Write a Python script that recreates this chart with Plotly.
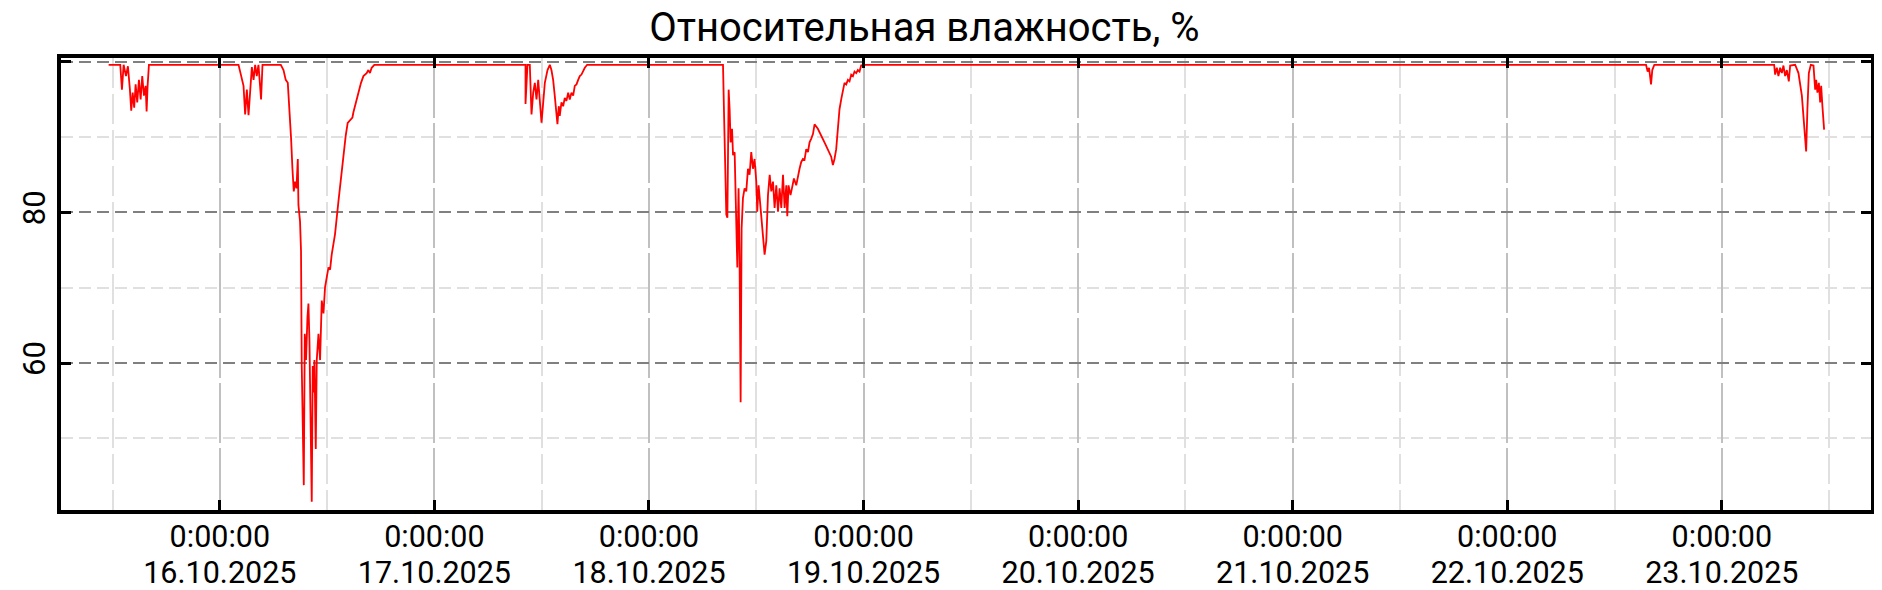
import pandas as pd
import plotly.graph_objects as go

# relative humidity readings, hours counted from 15.10.2025 0:00
hours = [
    11.56, 12.86, 13.05, 13.24, 13.50, 13.72, 13.94, 14.09, 14.25, 14.42,
    14.58, 14.76, 14.95, 15.14, 15.32, 15.51, 15.70, 15.81, 15.92, 16.07,
    26.09, 26.38, 26.65, 26.83, 27.02, 27.21, 27.39, 27.58, 27.77, 27.95,
    28.13, 28.32, 28.50, 28.61, 28.77, 30.82, 31.12, 31.37, 31.60, 31.74,
    31.97, 32.12, 32.27, 32.41, 32.57, 32.72, 32.79, 32.97, 33.08, 33.16,
    33.27, 33.39, 33.50, 33.64, 33.80, 33.91, 34.02, 34.13, 34.28, 34.39,
    34.50, 34.58, 34.73, 34.84, 35.03, 35.21, 35.40, 35.59, 35.77, 36.15,
    36.33, 36.51, 36.88, 37.26, 37.55, 37.82, 38.08, 38.30, 38.56, 38.83,
    38.94, 39.20, 39.50, 39.79, 40.06, 40.24, 40.42, 40.61, 40.79, 40.98,
    41.28,
    58.19, 58.19, 58.41, 58.67, 58.86, 59.05, 59.23, 59.42, 59.61, 59.79,
    59.98, 60.17, 60.35, 60.65, 60.91, 61.09, 61.28, 61.46, 61.65, 61.76,
    61.91, 62.02, 62.21, 62.40, 62.58, 62.77, 62.96, 63.14, 63.33, 63.52,
    63.70, 63.89, 64.08, 64.26, 64.45, 64.64, 64.82, 65.08,
    80.28, 80.39, 80.54, 80.65, 80.77, 80.91, 81.02, 81.13, 81.29, 81.40,
    81.58, 81.77, 81.88, 82.02, 82.13, 82.25, 82.36, 82.51, 82.69, 82.88,
    83.07, 83.25, 83.44, 83.63, 83.81, 84.00, 84.11, 84.26, 84.48, 84.75,
    84.93, 85.12, 85.31, 85.50, 85.68, 85.87, 86.05, 86.24, 86.43, 86.61,
    86.80, 86.99, 87.17, 87.36, 87.47, 87.61, 87.83, 87.99, 88.21, 88.47,
    88.66, 88.84, 89.03, 89.22, 89.40, 89.59, 89.78, 89.96, 90.15, 90.34,
    90.52, 90.71, 90.89, 91.63, 92.38, 92.57, 92.75, 92.94, 93.13, 93.31,
    93.50, 93.69, 93.87, 94.06, 94.25, 94.43, 94.62, 94.81, 94.99, 95.18,
    95.36, 95.55, 95.73, 95.99,
    183.52, 183.70, 183.86, 184.08, 184.22, 184.45,
    197.85, 197.96, 198.15, 198.33, 198.52, 198.71, 198.89, 199.08, 199.27, 199.49,
    199.64, 200.20, 200.57, 200.95, 201.20, 201.43, 201.57, 201.73, 201.95, 202.25,
    202.44, 202.55, 202.69, 202.85, 203.00, 203.11, 203.25, 203.44,
]
rh = [
    99.6, 99.6, 96.3, 99.6, 98.1, 99.4, 96.3, 93.5, 95.9, 93.9,
    97.0, 94.6, 97.6, 95.0, 98.1, 95.5, 96.8, 93.4, 96.8, 99.6,
    99.6, 98.3, 96.8, 93.0, 96.3, 92.9, 96.8, 99.3, 97.6, 99.6,
    98.1, 99.6, 96.8, 95.0, 99.6, 99.6, 98.9, 97.6, 97.2, 94.6,
    89.8, 85.8, 82.8, 84.1, 83.2, 87.1, 81.0, 78.8, 74.9, 59.6,
    49.5, 43.8, 63.9, 60.4, 66.1, 67.9, 63.1, 54.3, 41.6, 59.6,
    56.1, 60.4, 48.6, 60.4, 63.9, 60.4, 68.3, 66.6, 70.1, 72.7,
    72.4, 74.4, 77.1, 81.4, 84.5, 88.0, 90.2, 91.9, 92.2, 92.6,
    93.3, 94.6, 96.1, 97.2, 98.1, 98.3, 98.5, 98.9, 98.5, 99.2,
    99.6,
    99.6, 94.4, 99.6, 99.6, 93.0, 95.9, 97.2, 95.0, 97.6, 94.1,
    91.9, 94.6, 97.2, 98.9, 99.6, 98.9, 97.6, 95.5, 93.3, 91.7,
    94.1, 92.8, 94.6, 94.1, 95.2, 94.8, 95.9, 95.0, 95.9, 95.5,
    96.8, 97.0, 97.6, 98.1, 98.3, 98.9, 99.2, 99.6,
    99.6, 93.3, 84.5, 79.7, 79.3, 96.3, 93.7, 89.3, 91.1, 87.6,
    88.0, 78.4, 72.7, 83.2, 74.0, 54.8, 77.9, 81.9, 83.2, 82.8,
    85.8, 85.0, 88.0, 85.8, 87.1, 84.1, 80.1, 83.6, 80.6, 77.9,
    74.4, 76.2, 82.3, 85.0, 82.8, 84.1, 80.6, 83.6, 80.1, 83.2,
    80.6, 85.0, 80.6, 83.6, 79.5, 83.6, 82.3, 83.2, 84.5, 83.6,
    85.0, 85.8, 86.7, 87.1, 87.0, 88.4, 88.0, 89.3, 89.8, 90.4,
    91.7, 91.3, 91.1, 89.3, 87.4, 86.3, 87.1, 88.4, 91.1, 93.7,
    95.0, 96.3, 97.2, 97.0, 97.6, 97.4, 98.3, 98.1, 98.7, 98.5,
    98.9, 98.7, 99.5, 99.6,
    99.6, 98.7, 99.2, 97.0, 98.9, 99.6,
    99.6, 98.3, 99.2, 98.1, 99.2, 98.5, 99.5, 98.1, 98.9, 97.4,
    99.5, 99.6, 98.5, 95.5, 91.9, 88.1, 93.7, 98.5, 99.6, 99.5,
    96.3, 97.6, 95.9, 97.2, 94.6, 96.8, 94.1, 91.0,
]

days = pd.date_range("2025-10-16", "2025-10-23", freq="D")
half_days = pd.date_range("2025-10-15 12:00", "2025-10-23 12:00", freq="D")

# two-line labels: glyphs at 30.5px, but the line step follows the smaller base font
span = "<span style='font-size:30.5px'>{}</span>"
day_labels = [span.format("0:00:00") + "<br>" + span.format(d.strftime("%d.%m.%Y"))
              for d in days]

base = pd.Timestamp("2025-10-15")
times = base + pd.to_timedelta(hours, unit="h")

fig = go.Figure()
fig.add_trace(go.Scatter(x=times, y=rh, mode="lines",
                         line=dict(color="#ff0000", width=1.8)))

# the page body adds an 8px margin, so the figure is a bit smaller than the window
fig.update_layout(
    width=1874, height=582,
    margin=dict(l=53, r=11, t=50, b=80),
    paper_bgcolor="white", plot_bgcolor="white",
    showlegend=False,
    font=dict(family="Roboto", size=31, color="black"),
    title=dict(text="Относительная влажность, %", x=0.489, xanchor="center",
               y=0.968, yanchor="middle", yref="container",
               font=dict(family="Roboto", size=40, color="black")),
)

fig.update_xaxes(
    range=["2025-10-15 06:14", "2025-10-23 16:41"],
    tickmode="array", tickvals=days, ticktext=day_labels,
    tickfont=dict(size=27.5),
    automargin=False,
    showline=True, linecolor="black", linewidth=4, mirror="allticks",
    ticks="inside", ticklen=10, tickwidth=3, tickcolor="black",
    showgrid=True, gridcolor="#c0c0c0", gridwidth=2, griddash="60px,5px",
    minor=dict(tickmode="array", tickvals=half_days, showgrid=True,
               gridcolor="#e0e0e0", gridwidth=1.5, griddash="30px,6px"),
    zeroline=False,
)
fig.update_yaxes(
    range=[40.5, 100.5],
    tickmode="array", tickvals=[60, 80, 100], ticktext=["60", "80", ""],
    tickangle=-90, tickfont=dict(size=31),
    automargin=False,
    showline=True, linecolor="black", linewidth=4, mirror="allticks",
    ticks="inside", ticklen=10, tickwidth=3, tickcolor="black",
    showgrid=True, gridcolor="#808080", gridwidth=1.5, griddash="12px,6px",
    minor=dict(tickmode="array", tickvals=[50, 70, 90], showgrid=True,
               gridcolor="#e0e0e0", gridwidth=1.5, griddash="12px,6px"),
    zeroline=False,
)

fig.write_html("out.html")
